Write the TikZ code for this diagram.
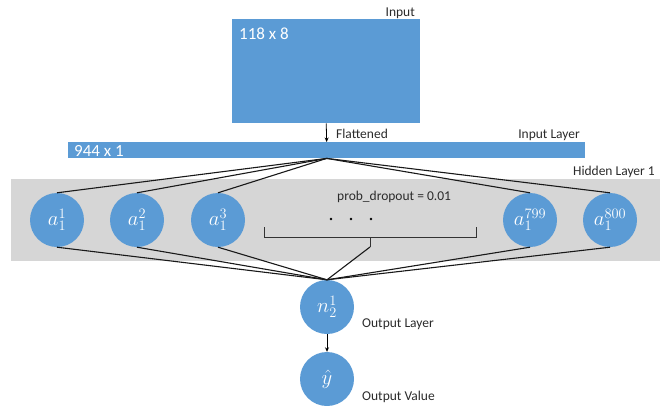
\documentclass[tikz,border=0pt]{standalone}
\usepackage{fontspec}
\setmainfont{Carlito}
\usetikzlibrary{arrows.meta}
\definecolor{nblue}{HTML}{5B9BD5}
\definecolor{lgray}{HTML}{D6D6D6}
\definecolor{tgray}{HTML}{2B2B2B}
\tikzset{
  neuron/.style={circle,fill=nblue,minimum size=54pt,inner sep=0pt,text=white,font=\fontsize{21}{21}\selectfont},
  lbl/.style={text=tgray,font=\fontsize{13.5}{13.5}\selectfont,inner sep=0pt},
  wlbl/.style={text=white,font=\fontsize{17}{17}\selectfont,inner sep=0pt},
  conn/.style={draw=black!90,line width=1.1pt},
  bracestyle/.style={draw=black!80,line width=0.8pt},
  arr/.style={draw=black,line width=0.8pt,-{Stealth[length=4.5pt,width=4pt]}}
}
\begin{document}
\begin{tikzpicture}[x=1pt,y=-1pt]
\useasboundingbox (0,0) rectangle (671,405);
% input rectangle
\node[fill=nblue,minimum width=188pt,minimum height=104pt,inner sep=0pt,anchor=north west] (inp) at (232,19) {};
\node[lbl,anchor=base east] (inlbl) at (415,16) {Input};
\node[wlbl,anchor=base west] (insz) at (239,39) {118 x 8};
% flattened bar
\node[fill=nblue,minimum width=517pt,minimum height=16pt,inner sep=0pt,anchor=north west] (bar) at (68,142) {};
\node[wlbl,anchor=base west] (barsz) at (74,156) {944 x 1};
\node[lbl,anchor=base west] (flat) at (336,138) {Flattened};
\node[lbl,anchor=base east] (illbl) at (580,138) {Input Layer};
\draw[arr] (inp.south) -- (bar.north);
% hidden layer box
\node[fill=lgray,minimum width=649pt,minimum height=82pt,inner sep=0pt,anchor=north west] (hid) at (11,179) {};
\node[lbl,anchor=base east] (hlbl) at (655,175) {Hidden Layer 1};
\node[lbl,anchor=base west] (pd) at (337,200) {prob\_dropout = 0.01};
% neurons
\node[neuron] (a1) at (57,220) {$a_1^{1}$};
\node[neuron] (a2) at (137,220) {$a_1^{2}$};
\node[neuron] (a3) at (218,220) {$a_1^{3}$};
\node[neuron] (a799) at (530,220) {$a_1^{799}$};
\node[neuron] (a800) at (610,220) {$a_1^{800}$};
% dots
\fill[black] (331,219) circle (1.4pt) (351,219) circle (1.4pt) (371,219) circle (1.4pt);
% brace
\coordinate (bl) at (264,227);
\coordinate (br) at (476,227);
\coordinate (bm) at (370,237);
\coordinate (bt) at (370,247);
\draw[bracestyle] (bl) |- (br |- bm) -- (br);
\draw[bracestyle] (bm) -- (bt);
% output neurons
\node[neuron] (n2) at (327,307) {$n_2^{1}$};
\node[neuron] (yh) at (327,379) {$\hat{y}$};
\node[lbl,anchor=base west] (ollbl) at (362,327) {Output Layer};
\node[lbl,anchor=base west] (ovlbl) at (362,400) {Output Value};
\draw[arr] (n2.south) -- (yh.north);
% connectors
\foreach \n in {a1,a2,a3,a799,a800}{
  \draw[conn] (bar.south) -- (\n.north);
  \draw[conn] (\n.south) -- (n2.north);
}
\draw[conn] (bt) -- (n2.north);
\end{tikzpicture}
\end{document}
